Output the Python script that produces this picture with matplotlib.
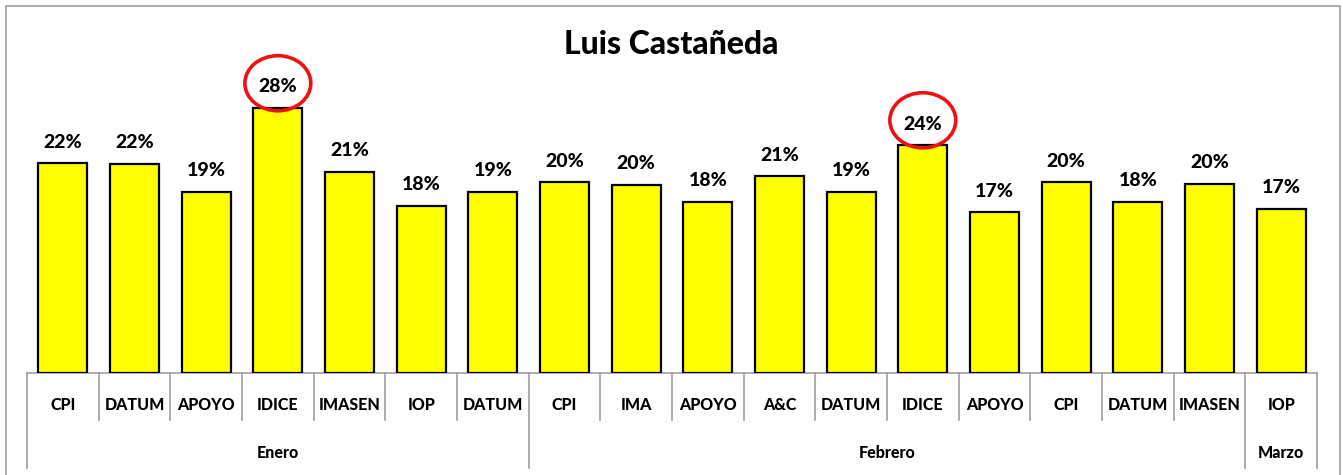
import matplotlib.pyplot as plt
from matplotlib.patches import Ellipse, Rectangle

# data
encuestadoras = ["CPI", "DATUM", "APOYO", "IDICE", "IMASEN", "IOP", "DATUM",
                 "CPI", "IMA", "APOYO", "A&C", "DATUM", "IDICE", "APOYO", "CPI", "DATUM", "IMASEN",
                 "IOP"]
valores = [0.221, 0.220, 0.191, 0.279, 0.212, 0.176, 0.191,
           0.201, 0.198, 0.180, 0.207, 0.191, 0.240, 0.169, 0.201, 0.180, 0.199,
           0.173]
meses = ["Enero", "Febrero", "Marzo"]
meses_n = [7, 10, 1]
destacados = [3, 12]

plt.rcParams['font.family'] = ['Lato', 'DejaVu Sans']

fig = plt.figure(figsize=(13.43, 4.75), dpi=100)
W, H = 1343, 475
ax = fig.add_axes([27 / W, (H - 373) / H, (1317 - 27) / W, (373 - 88) / H])

x = list(range(len(valores)))
ax.bar(x, valores, width=0.68, color="#ffff00", edgecolor="black", linewidth=1.6, zorder=3)
ax.set_xlim(-0.5, len(valores) - 0.5)
ax.set_ylim(0, 0.30)
for s in ["top", "right", "left"]:
    ax.spines[s].set_visible(False)
ax.spines["bottom"].set_color("#a0a0a0")
ax.spines["bottom"].set_linewidth(1.2)
ax.set_yticks([])
ax.set_xticks([])

for i, v in enumerate(valores):
    ax.annotate(f"{v:.0%}", (i, v), xytext=(0, 9), textcoords="offset points",
                ha="center", va="bottom", fontsize=14, fontweight=900)

# highlighted values
for i in destacados:
    ax.add_patch(Ellipse((i, valores[i] + 0.026), 0.92, 0.058, fill=False,
                         edgecolor="#ee1111", linewidth=2.6, clip_on=False, zorder=5))

# category axis labels
tr = ax.get_xaxis_transform()
px = 1 / (373 - 88)  # axes-fraction per pixel in y
for i, lab in enumerate(encuestadoras):
    ax.text(i, -32 * px, lab, transform=tr, ha="center", va="center",
            fontsize=11.5, fontweight=900)

bordes = [0]
for n in meses_n:
    bordes.append(bordes[-1] + n)
for b in range(len(valores) + 1):
    if b in bordes:
        y_end = -95 * px
    else:
        y_end = -47 * px
    ax.plot([b - 0.5, b - 0.5], [0, y_end], transform=tr, color="#a0a0a0",
            linewidth=1.2, clip_on=False)
for k, mes in enumerate(meses):
    centro = (bordes[k] + bordes[k + 1]) / 2 - 0.5
    ax.text(centro, -80 * px, mes, transform=tr, ha="center", va="center",
            fontsize=11.5, fontweight=900)

fig.text(0.5, (H - 45) / H, "Luis Castañeda", ha="center", va="center",
         fontsize=23, fontweight=900)

fig.patches.append(Rectangle((6 / W, -0.1), (1340 - 6) / W, (H - 6) / H + 0.1,
                             transform=fig.transFigure, fill=False,
                             edgecolor="#a0a0a0", linewidth=1.2))

fig.savefig("out.png", dpi=100)
